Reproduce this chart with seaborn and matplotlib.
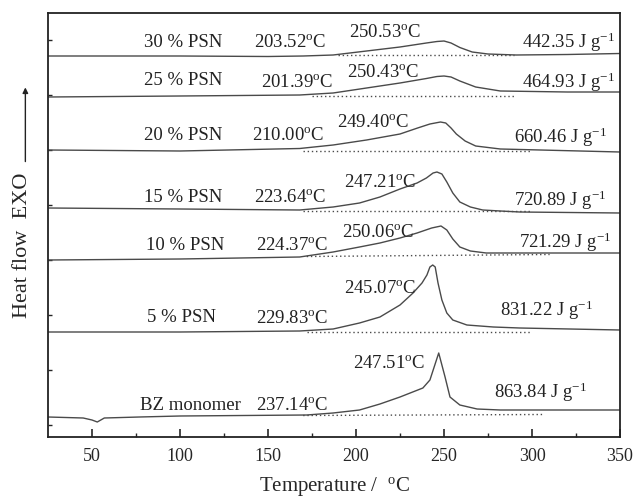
import numpy as np
import pandas as pd
import seaborn as sns
from matplotlib import pyplot as plt

# DSC curves (temperature in degC, heat flow in a.u., stacked)
t_30 = [25, 100, 150, 170, 187, 206, 225, 240, 246, 250, 254, 259, 266, 275, 291, 320, 350]
hf_30 = [381, 381, 380.5, 381, 382, 386, 390, 394, 395.5, 396, 394, 389.5, 385, 383, 382, 382.5, 383.5]

t_25 = [25, 100, 168, 187, 206, 225, 240, 246, 250, 254, 259, 268, 282, 320, 350]
hf_25 = [340, 341, 342, 344, 349, 354, 358.5, 360.5, 361, 360, 356, 350, 346, 345, 345]

t_20 = [25, 100, 168, 187, 206, 225, 235, 242, 248, 251, 254, 257, 262, 268, 282, 316, 350]
hf_20 = [287, 286, 288.5, 292, 297, 303, 309, 313, 315, 314, 309, 303, 296, 291, 288, 286.5, 285]

t_15 = [25, 100, 168, 187, 202, 213.6, 225, 234.7, 240, 243.8, 246, 248.8, 251.6, 255, 259, 265, 272, 282, 293, 350]
hf_15 = [229, 228, 227, 230, 234, 240, 248, 254, 259, 264, 265, 263, 255, 244, 235, 230, 227, 226, 225, 224]

t_10 = [25, 100, 168, 187, 202, 213.6, 225, 234.7, 243, 248.3, 251.6, 255, 259, 265, 274, 293, 350]
hf_10 = [177, 178, 180, 185, 190, 194, 199, 204, 209, 211, 207, 198, 190, 186, 184, 184, 184]

t_5 = [25, 100, 168, 187, 202, 213.6, 225, 232.4, 237.5, 240.3, 242, 243.6, 245, 246.6, 248.8, 251.6, 255,
       263, 278, 293, 350]
hf_5 = [105, 105, 106, 108, 114, 120, 132, 144, 154, 162, 170, 172, 170, 154, 137, 124, 117, 112, 110, 109, 107]

t_bz = [25, 45, 50, 53, 57, 77, 100, 172, 187, 202, 213.6, 225, 238, 242, 247, 250.6, 253.4, 259, 268.8, 282, 350]
hf_bz = [20, 19, 17, 15, 19, 20, 21, 22, 24, 27, 33, 40, 49, 57, 84, 60, 40, 32, 28, 27, 27]

# dotted integration baselines: (T start, T end), (hf start, hf end)
base_t = [(190, 290), (175, 290), (170, 300), (170, 300), (172, 310), (172, 300), (170, 306)]
base_hf = [(382, 382), (341, 341), (286, 286), (226, 226), (180.5, 182.5), (105, 105), (21.5, 22.5)]

samples = ["30 % PSN", "25 % PSN", "20 % PSN", "15 % PSN", "10 % PSN", "5 % PSN", "BZ monomer"]
onset = ["203.52", "201.39", "210.00", "223.64", "224.37", "229.83", "237.14"]
peak = ["250.53", "250.43", "249.40", "247.21", "250.06", "245.07", "247.51"]
enthalpy = ["442.35", "464.93", "660.46", "720.89", "721.29", "831.22", "863.84"]

curves = [(t_30, hf_30), (t_25, hf_25), (t_20, hf_20), (t_15, hf_15),
          (t_10, hf_10), (t_5, hf_5), (t_bz, hf_bz)]

# text placement (x in degC, y in a.u.)
name_pos = [(101.7, 395), (101.7, 357), (101.7, 302), (101.7, 240), (102.8, 192), (101, 120), (105.7, 32)]
onset_pos = [(162.5, 395), (166.5, 355), (161.4, 302), (162.5, 240), (163.6, 192), (163.6, 119), (163.6, 32)]
peak_pos = [(216.5, 405), (215.3, 365), (209.7, 315), (213.6, 255), (212.5, 205), (213.6, 149), (219, 74)]
dh_pos = [(347, 395), (347, 355), (342.6, 300), (342.6, 237), (345, 195), (334.7, 127), (331, 45)]

sns.set_style("ticks")
plt.rcParams['font.family'] = ['Liberation Serif', 'DejaVu Serif']
plt.rcParams['mathtext.fontset'] = 'custom'
plt.rcParams['mathtext.rm'] = 'Liberation Serif'
plt.rcParams['mathtext.it'] = 'Liberation Serif:italic'

fig = plt.figure(figsize=(6.34, 4.98), dpi=100)
ax = fig.add_axes([48 / 634, 1 - 437 / 498, 572 / 634, 424 / 498])

line_col = "#4a4a4a"
txt_col = "#222222"
for i, (t, hf) in enumerate(curves):
    df = pd.DataFrame({"T": t, "HF": hf})
    sns.lineplot(data=df, x="T", y="HF", ax=ax, color=line_col, lw=1.0, sort=False)
    ax.plot(base_t[i], base_hf[i], ls=(0, (1, 2)), color=line_col, lw=1.0)

fs = 13.5
for i in range(len(samples)):
    ax.text(*name_pos[i], samples[i], ha="center", va="center", fontsize=fs, color=txt_col)
    ax.text(*onset_pos[i], onset[i] + "$^{\\mathrm{o}}$C", ha="center", va="center", fontsize=fs, color=txt_col)
    ax.text(*peak_pos[i], peak[i] + "$^{\\mathrm{o}}$C", ha="center", va="center", fontsize=fs, color=txt_col)
    ax.text(*dh_pos[i], enthalpy[i] + " J g$^{\\mathrm{-1}}$", ha="right", va="center", fontsize=fs, color=txt_col)

ax.set_xlim(25, 350)
ax.set_ylim(0, 424)
ax.set_xticks(np.arange(50, 351, 50))
ax.set_xticks(np.arange(75, 350, 50), minor=True)
ax.set_yticks(np.arange(12, 424, 55))
ax.set_yticklabels([])
ax.tick_params(axis="x", which="major", direction="in", length=6, width=1.2, labelsize=13, pad=8)
ax.tick_params(axis="x", which="minor", direction="in", length=3, width=1.0)
ax.tick_params(axis="y", direction="in", length=3, width=1.0)
for s in ax.spines.values():
    s.set_linewidth(1.3)
    s.set_color("#222222")
ax.set_xlabel("Temperature /  $^{\\mathrm{o}}$C", fontsize=15, labelpad=7)
ax.set_ylabel("")

fig.text(0.035, 0.508, "Heat flow  EXO", rotation=90, ha="center", va="center", fontsize=16)
ax.annotate("", xy=(0.040, 0.83), xytext=(0.040, 0.67), xycoords="figure fraction",
            textcoords="figure fraction",
            arrowprops=dict(arrowstyle="-|>", color="#222222", lw=1.0, mutation_scale=8))

fig.savefig("out.png", dpi=100)
